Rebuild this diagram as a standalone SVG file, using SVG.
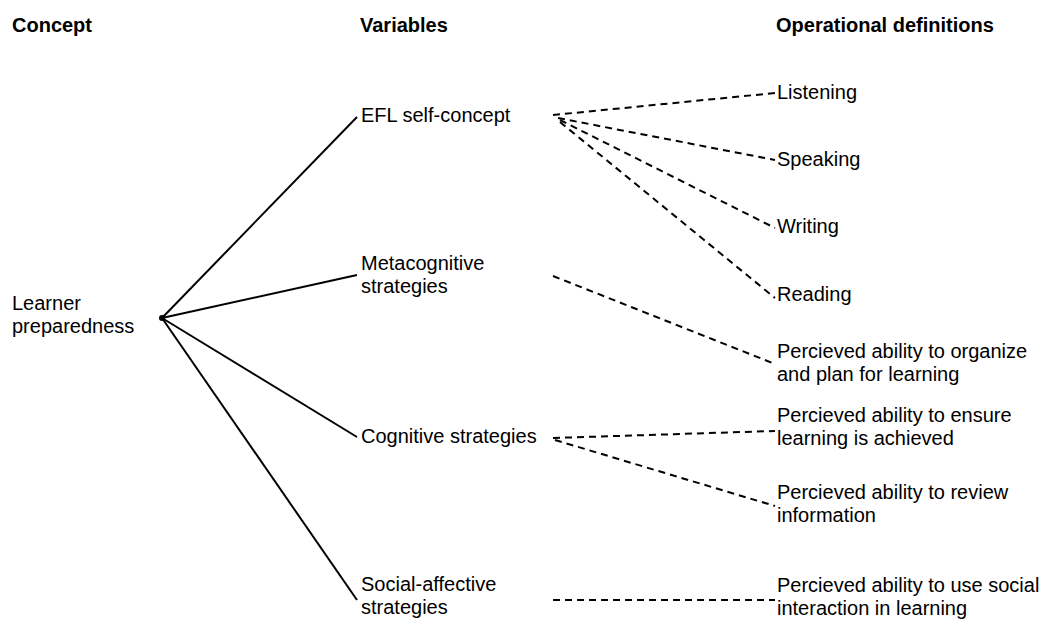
<svg xmlns="http://www.w3.org/2000/svg" width="1043" height="619" viewBox="0 0 1043 619">
<style>
text{font-family:"Liberation Sans",Arial,sans-serif;font-size:20px;fill:#000}
.h{font-weight:bold}
.s{stroke:#000;stroke-width:2;fill:none}
.d{stroke:#000;stroke-width:2;fill:none;stroke-dasharray:7 5}
</style>
<rect width="1043" height="619" fill="#fff"/>
<g id="headers">
<text class="h" x="12" y="32">Concept</text>
<text class="h" x="360" y="32">Variables</text>
<text class="h" x="776" y="32">Operational definitions</text>
</g>
<g id="connectors">
<line class="s" x1="162" y1="318" x2="357" y2="117"/>
<line class="s" x1="162" y1="318" x2="357" y2="275"/>
<line class="s" x1="162" y1="318" x2="357" y2="437"/>
<line class="s" x1="162" y1="318" x2="357" y2="600"/>
<line class="d" x1="553" y1="115" x2="775" y2="93"/>
<line class="d" x1="558" y1="118" x2="775" y2="160"/>
<line class="d" x1="560" y1="120" x2="775" y2="228"/>
<line class="d" x1="560" y1="122" x2="775" y2="298"/>
<line class="d" x1="553" y1="276" x2="775" y2="364"/>
<line class="d" x1="553" y1="438" x2="775" y2="431"/>
<line class="d" x1="555" y1="440" x2="775" y2="506"/>
<line class="d" x1="553" y1="600" x2="775" y2="600"/>
</g>
<g id="learner"><circle cx="162" cy="318" r="3" fill="#000"/><text x="12" y="310">Learner</text><text x="12" y="333">preparedness</text></g>
<g id="efl"><text x="361" y="122">EFL self-concept</text></g>
<g id="meta"><text x="361" y="270">Metacognitive</text><text x="361" y="293">strategies</text></g>
<g id="cog"><text x="361" y="443">Cognitive strategies</text></g>
<g id="social"><text x="361" y="591">Social-affective</text><text x="361" y="614">strategies</text></g>
<g id="listening"><text x="777" y="99">Listening</text></g>
<g id="speaking"><text x="777" y="166">Speaking</text></g>
<g id="writing"><text x="777" y="233">Writing</text></g>
<g id="reading"><text x="777" y="301">Reading</text></g>
<g id="organize"><text x="777" y="358">Percieved ability to organize</text><text x="777" y="381">and plan for learning</text></g>
<g id="ensure"><text x="777" y="422">Percieved ability to ensure</text><text x="777" y="445">learning is achieved</text></g>
<g id="review"><text x="777" y="499">Percieved ability to review</text><text x="777" y="522">information</text></g>
<g id="usesocial"><text x="777" y="592">Percieved ability to use social</text><text x="777" y="615">interaction in learning</text></g>
</svg>
